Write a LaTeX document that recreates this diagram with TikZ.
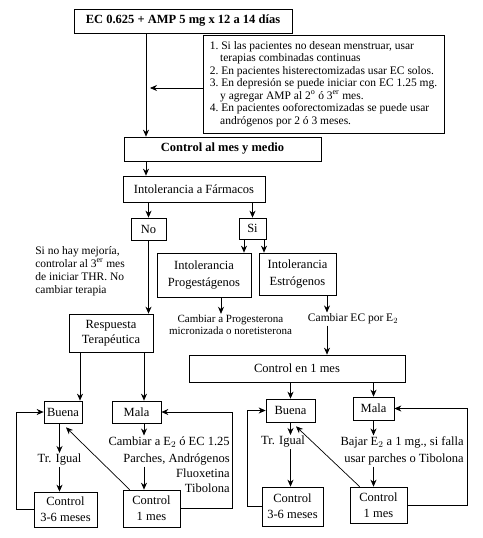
\documentclass[tikz,border=0pt]{standalone}
\usepackage{fontspec}
\setmainfont{Liberation Serif}
\usetikzlibrary{arrows.meta}

\begin{document}
\begin{tikzpicture}[x=1pt, y=-1pt, >={Stealth[length=7pt,width=6pt]}, line width=0.7pt,
    caja/.style={draw, align=center, inner sep=1pt, font=\fontsize{12.5}{15}\selectfont},
    texto/.style={align=center, inner sep=1pt, font=\fontsize{12.5}{15}\selectfont}]
    \useasboundingbox (0,0) rectangle (482,538);

    % columnas de las flechas
    \coordinate (eje) at (146,0);
    \coordinate (colP) at (244,0);
    \coordinate (colE) at (264,0);
    \coordinate (colCP) at (221,0);
    \coordinate (colCE) at (327,0);
    \coordinate (colB) at (80,0);
    \coordinate (colM) at (144,0);

    % parte superior
    \node[caja, minimum width=218pt, minimum height=24pt, font=\fontsize{12.5}{14}\selectfont\bfseries] (inicio) at (183,21) {EC 0.625 + AMP 5 mg x 12 a 14 días};
    \node[caja, minimum width=241pt, minimum height=98pt, align=left, font=\fontsize{11.5}{12.5}\selectfont\frenchspacing] (notas) at (323.5,84) {%
        1. Si las pacientes no desean menstruar, usar\\
        \hspace*{0.9em}terapias combinadas continuas\\
        2. En pacientes histerectomizadas usar EC solos.\\
        3. En depresión se puede iniciar con EC 1.25 mg.\\
        \hspace*{0.9em}y agregar AMP al 2\textsuperscript{o} ó 3\textsuperscript{er} mes.\\
        4. En pacientes ooforectomizadas se puede usar\\
        \hspace*{0.9em}andrógenos por 2 ó 3 meses.};
    \node[caja, minimum width=197pt, minimum height=24pt, font=\fontsize{12.5}{14}\selectfont\bfseries] (ctrl) at (222.5,149) {Control al mes y medio};
    \node[caja, minimum width=142pt, minimum height=26pt] (intol) at (194,189) {Intolerancia a Fármacos};
    \node[caja, minimum width=35pt, minimum height=22pt] (no) at (148.5,229) {No};
    \node[caja, minimum width=27pt, minimum height=21pt] (si) at (252.5,228.5) {Si};

    % rama de intolerancia
    \node[caja, minimum width=94pt, minimum height=44pt, font=\fontsize{12.5}{17}\selectfont] (prog) at (204,275) {Intolerancia\\ Progestágenos};
    \node[caja, minimum width=77pt, minimum height=42pt, font=\fontsize{12.5}{17}\selectfont] (estr) at (297.5,274) {Intolerancia\\ Estrógenos};
    \node[texto, font=\fontsize{11}{12}\selectfont] (cprog) at (230.5,325) {Cambiar a Progesterona\\ micronizada o noretisterona};
    \node[texto, font=\fontsize{11.5}{12}\selectfont] (cestr) at (353,319) {Cambiar EC por E$_2$};
    \node[caja, minimum width=216pt, minimum height=27pt] (c1) at (297,368.5) {Control en 1 mes};

    % rama sin intolerancia
    \node[texto, align=left, anchor=north west, font=\fontsize{11.5}{13}\selectfont] (mejoria) at (34,245) {Si no hay mejoría,\\ controlar al 3\textsuperscript{er} mes\\ de iniciar THR. No\\ cambiar terapia};
    \node[caja, minimum width=84pt, minimum height=38pt] (resp) at (111,333) {Respuesta\\ Terapéutica};

    % parte inferior izquierda
    \node[caja, minimum width=38pt, minimum height=22pt] (buenaL) at (63,412) {Buena};
    \node[caja, minimum width=49pt, minimum height=22pt] (malaL) at (136.5,412) {Mala};
    \node[texto] (trL) at (59.5,460) {Tr. Igual};
    \node[texto, align=right, anchor=east] (cambA) at (231,451) {Cambiar a E$_2$ ó EC 1.25\\[2pt] Parches, Andrógenos};
    \node[texto, align=right, anchor=north east] (cambB) at (231,467) {Fluoxetina\\ Tibolona};
    \node[caja, minimum width=63pt, minimum height=35pt, font=\fontsize{12.5}{16}\selectfont] (ctrl36L) at (65.5,509.5) {Control\\ 3-6 meses};
    \node[caja, minimum width=57pt, minimum height=37pt, font=\fontsize{12.5}{16}\selectfont] (ctrl1L) at (151.5,508.5) {Control\\ 1 mes};

    % parte inferior derecha
    \node[caja, minimum width=49pt, minimum height=23pt] (buenaR) at (290.5,410.5) {Buena};
    \node[caja, minimum width=41pt, minimum height=23pt] (malaR) at (373.5,408.5) {Mala};
    \node[texto] (trR) at (283,442) {Tr. Igual};
    \node[texto, align=right, anchor=east] (bajar) at (465,451) {Bajar E$_2$ a 1 mg., si falla\\[2pt] usar parches o Tibolona};
    \node[caja, minimum width=61pt, minimum height=39pt, font=\fontsize{12.5}{16}\selectfont] (ctrl36R) at (292.5,506.5) {Control\\ 3-6 meses};
    \node[caja, minimum width=57pt, minimum height=36pt, font=\fontsize{12.5}{16}\selectfont] (ctrl1R) at (378.5,505) {Control\\ 1 mes};

    % flechas superiores
    \draw[->] (inicio.south -| eje) -- (ctrl.north -| eje);
    \draw[->, shorten >=4pt] ([yshift=-4pt]notas.west) -- ([yshift=-4pt]notas.west -| eje);
    \draw[->] (ctrl.south -| eje) -- (intol.north -| eje);
    \draw[->] (intol.south -| no) -- (no.north);
    \draw[->] (intol.south -| si) -- (si.north);
    \draw[->] (si.south -| colP) -- (prog.north -| colP);
    \draw[->] (si.south -| colE) -- (estr.north -| colE);
    \draw[->] (prog.south -| colCP) -- (cprog.north -| colCP);
    \draw[->] (estr.south -| colCE) -- (cestr.north -| colCE);
    \draw[->] (cestr.south -| colCE) -- (c1.north -| colCE);
    \draw[->] (no.south) -- (no.south |- resp.north);

    % flechas izquierda
    \draw[->] (resp.south -| colB) -- (buenaL.north -| colB);
    \draw[->] (resp.south -| colM) -- (malaL.north -| colM);
    \draw[->] (buenaL.south -| trL) -- (trL.north);
    \draw[->] (trL.south) -- (trL.south |- ctrl36L.north);
    \draw[->] (malaL.south -| colM) -- (cambA.north -| colM);
    \draw[->] (cambA.south -| colM) -- (ctrl1L.north -| colM);
    \draw[->] (ctrl36L.west) -- ++(-17,0) |- (buenaL.west);
    \draw[->] ([xshift=7pt]ctrl1L.north west) -- ([xshift=3pt,yshift=-4pt]buenaL.south);
    \draw[->] (ctrl1L.east) -- ++(52,0) |- (malaL.east);

    % flechas derecha
    \draw[->] (c1.south -| buenaR) -- (buenaR.north);
    \draw[->] (c1.south -| malaR) -- (malaR.north);
    \draw[->] (buenaR.south) -- (buenaR.south |- trR.north);
    \draw[->] (buenaR.south |- trR.south) -- (buenaR.south |- ctrl36R.north);
    \draw[->] (malaR.south) -- (malaR.south |- bajar.north);
    \draw[->] (malaR.south |- bajar.south) -- (malaR.south |- ctrl1R.north);
    \draw[->] (ctrl36R.west) -- ++(-14,0) |- (buenaR.west);
    \draw[->] ([xshift=10pt]ctrl1R.north west) -- ([xshift=5.5pt,yshift=-4pt]buenaR.south);
    \draw[->] (ctrl1R.east) -- ++(60,0) |- (malaR.east);
\end{tikzpicture}
\end{document}
